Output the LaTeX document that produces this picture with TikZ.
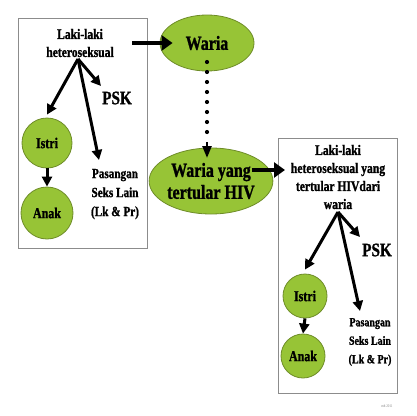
\documentclass[tikz,border=0pt]{standalone}
\usepackage{fontspec}
\setmainfont{Liberation Serif}[FakeStretch=0.8,BoldFeatures={FakeBold=1.2}]
\usetikzlibrary{shapes.geometric,arrows.meta}
\definecolor{leaf}{HTML}{97C436}
\definecolor{leafline}{HTML}{6E8C28}
\definecolor{boxline}{HTML}{8C8C8C}
\tikzset{
  arr/.style={line width=3pt,-{Triangle[length=10pt,width=10pt]}},
  fat/.style={line width=4.5pt,-{Triangle[length=11pt,width=15pt]}},
  dotline/.style={line width=4.2pt,line cap=round,dash pattern=on 0pt off 10pt},
  pane/.style={draw=boxline,line width=1pt,fill=white},
  blob/.style={circle,fill=leaf,draw=leafline,line width=0.8pt,inner sep=0pt,font=\bfseries\fontsize{15}{17}\selectfont},
  oval/.style={ellipse,fill=leaf,draw=leafline,line width=0.8pt,inner sep=0pt,align=center,font=\bfseries\fontsize{20}{22}\selectfont},
  txt/.style={align=center,inner sep=0pt,font=\bfseries\fontsize{14.5}{18}\selectfont},
  big/.style={inner sep=0pt,font=\bfseries\fontsize{19}{21}\selectfont},
}
\begin{document}
\begin{tikzpicture}[x=1pt,y=-1pt]
\useasboundingbox (0,0) rectangle (417,415);
% left box
\draw[pane] (18,18) rectangle (147,248);
\node[txt] (lhet) at (80,43) {Laki-laki\\heteroseksual};
\coordinate (lsrc) at (78,59);
\node[blob,minimum size=50pt] (listri) at (47,143) {Istri};
\node[blob,minimum size=52pt] (lanak) at (47,213) {Anak};
\node[big] (lpsk) at (117,98) {PSK};
\node[txt,font=\bfseries\fontsize{14}{19}\selectfont] (lpas) at (115,194) {Pasangan\\Seks Lain\\(Lk \& Pr)};
\coordinate (lpskend) at (101,86);
\coordinate (lpasend) at (99,160);
\draw[arr] (lsrc) -- ([yshift=3pt]listri.north);
\draw[arr] (lsrc) -- (lpskend);
\draw[arr] (lsrc) -- (lpasend);
\draw[arr] (listri.south) -- (lanak.north);
% middle
\node[oval,minimum width=94pt,minimum height=56pt] (waria) at (207,43) {Waria};
\node[oval,minimum width=102pt,minimum height=66pt] (wariah) at (211,181) {Waria yang\\tertular HIV};
\coordinate (lout) at (132,43);
\draw[fat] (lout) -- ([xshift=13pt]waria.west);
\coordinate (dtop) at (207,62);
\coordinate (dbot) at (207,142);
\coordinate (dtip) at (207,158);
\draw[dotline] (dtop) -- (dbot);
\draw[line width=2.5pt,-{Triangle[length=12pt,width=9pt]}] (dbot) -- (dtip);
% right box
\draw[pane] (278,138) rectangle (397,393);
\node[txt] (rhet) at (338,177) {Laki-laki\\heteroseksual yang\\tertular HIVdari\\waria};
\coordinate (rin) at (285,170);
\coordinate (wout) at (252,170);
\draw[fat] (wout) -- (rin);
\coordinate (rsrc) at (338,212);
\node[blob,minimum size=44pt] (ristri) at (305,296) {Istri};
\node[blob,minimum size=44pt] (ranak) at (303,356) {Anak};
\node[big] (rpsk) at (377,250) {PSK};
\node[txt,font=\bfseries\fontsize{12.5}{18.5}\selectfont] (rpas) at (370,342) {Pasangan\\Seks Lain\\(Lk \& Pr)};
\coordinate (rpskend) at (360,237);
\coordinate (rpasend) at (360,311);
\draw[arr] (rsrc) -- ([yshift=4pt]ristri.north);
\draw[arr] (rsrc) -- (rpskend);
\draw[arr] (rsrc) -- (rpasend);
\draw[arr] (ristri.south) -- (ranak.north);
\node[inner sep=0pt,text=gray,font=\fontsize{4}{5}\selectfont] (sig) at (387,406) {mh 2011};
\end{tikzpicture}
\end{document}
